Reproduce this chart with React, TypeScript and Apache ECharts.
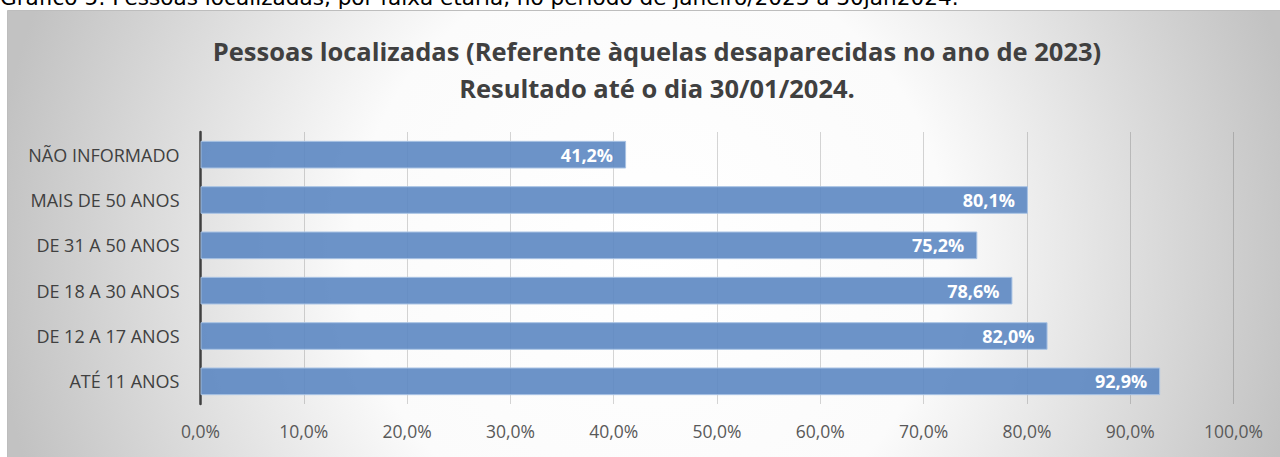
import React, { useEffect, useRef } from "react";
import * as echarts from "echarts";

const categories = [
  "NÃO INFORMADO",
  "MAIS DE 50 ANOS",
  "DE 31 A 50 ANOS",
  "DE 18 A 30 ANOS",
  "DE 12 A 17 ANOS",
  "ATÉ 11 ANOS",
];
const values = [41.2, 80.1, 75.2, 78.6, 82.0, 92.9];
const titleLines = [
  "Pessoas localizadas (Referente àquelas desaparecidas no ano de 2023)",
  "Resultado até o dia 30/01/2024.",
];
const caption =
  "Gráfico 5: Pessoas localizadas, por faixa etária, no período de janeiro/2023 a 30jan2024.";

const pct = (v: number) => v.toFixed(1).replace(".", ",") + "%";

export default function App() {
  const ref = useRef<HTMLDivElement>(null);
  useEffect(() => {
    if (!ref.current) return;
    const chart = echarts.init(ref.current, null, { renderer: "svg" });
    const font = "'Open Sans', 'Noto Sans', sans-serif";
    chart.setOption({
      animation: false,
      graphic: [
        {
          type: "rect",
          z: -10,
          silent: true,
          shape: { x: 7.5, y: 10.5, width: 1280, height: 460 },
          style: {
            fill: new echarts.graphic.RadialGradient(650, 250, 660, [
              { offset: 0, color: "#ffffff" },
              { offset: 0.45, color: "#fbfbfb" },
              { offset: 1, color: "#c2c2c2" },
            ], true),
            stroke: "#bdbdbd",
            lineWidth: 1,
          },
        },
        {
          type: "text",
          x: 0,
          y: 8,
          style: {
            text: caption,
            fontFamily: "'DejaVu Sans', sans-serif",
            fontSize: 21.6,
            fill: "#000000",
            verticalAlign: "bottom",
          },
        },
        {
          type: "text",
          x: 657,
          y: 51,
          style: {
            text: titleLines[0],
            fontFamily: font,
            fontWeight: "bold",
            fontSize: 25.5,
            fill: "#404040",
            align: "center",
            verticalAlign: "middle",
          },
        },
        {
          type: "text",
          x: 657,
          y: 88,
          style: {
            text: titleLines[1],
            fontFamily: font,
            fontWeight: "bold",
            fontSize: 25.5,
            fill: "#404040",
            align: "center",
            verticalAlign: "middle",
          },
        },
      ],
      grid: { left: 200.5, right: 46.5, top: 132, bottom: 53, containLabel: false },
      xAxis: {
        type: "value",
        min: 0,
        max: 100,
        interval: 10,
        axisLine: { show: false },
        axisTick: { show: false },
        axisLabel: {
          formatter: (v: number) => pct(v),
          color: "#595959",
          fontFamily: font,
          fontSize: 17.5,
          margin: 18,
        },
        splitLine: { show: true, lineStyle: { color: "rgba(0,0,0,0.16)", width: 1 } },
      },
      yAxis: {
        type: "category",
        data: categories,
        inverse: true,
        axisLine: { show: true, lineStyle: { color: "#404040", width: 2.5 } },
        axisTick: { show: false },
        axisLabel: {
          color: "#404040",
          fontFamily: font,
          fontSize: 18,
          margin: 21,
        },
        splitLine: { show: false },
      },
      series: [
        {
          type: "bar",
          data: values,
          barWidth: "61%",
          itemStyle: {
            color: "rgba(92,135,194,0.9)",
            borderColor: "#a9c3e4",
            borderWidth: 1,
          },
          label: {
            show: true,
            position: "insideRight",
            distance: 13,
            formatter: (p: any) => pct(p.value),
            color: "#ffffff",
            fontWeight: "bold",
            fontFamily: font,
            fontSize: 18,
          },
        },
      ],
    });
    return () => chart.dispose();
  }, []);
  return (
    <div
      ref={ref}
      style={{ position: "absolute", left: 0, top: 0, width: 1280, height: 457 }}
    />
  );
}
